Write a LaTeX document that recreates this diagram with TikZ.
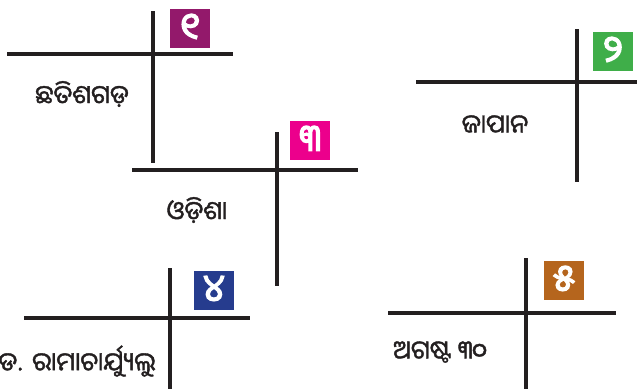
\documentclass[tikz,border=0pt]{standalone}
\usepackage{fontspec}
\newfontfamily\oriya[Script=Oriya,AutoFakeBold=1.6]{Noto Sans Oriya UI}
\newfontfamily\oriyabold[Script=Oriya,FakeBold=3.5]{Noto Sans Oriya UI}
\definecolor{cpurple}{HTML}{93196B}
\definecolor{cgreen}{HTML}{3FAE49}
\definecolor{cmagenta}{HTML}{EC008C}
\definecolor{cnavy}{HTML}{263C8E}
\definecolor{cbrown}{HTML}{B5651D}
\definecolor{cline}{HTML}{231F20}
\tikzset{
  rule/.style={draw=cline, line width=3.6pt},
  numbox/.style={minimum width=40pt, minimum height=39pt, inner sep=0pt, text=white, font=\oriyabold\fontsize{37}{37}\selectfont},
  lbl/.style={inner sep=0pt, text=cline, font=\oriya\bfseries\fontsize{25.5}{27}\selectfont}
}
\begin{document}
\begin{tikzpicture}[x=1pt,y=-1pt]
\useasboundingbox (0,0) rectangle (637,389);
% group 1
\coordinate (h1a) at (7,54); \coordinate (h1b) at (233,54);
\coordinate (v1a) at (153,11); \coordinate (v1b) at (153,163);
\draw[rule] (h1a) -- (h1b); \draw[rule] (v1a) -- (v1b);
\node[numbox, fill=cpurple] (n1) at (190,28) {୧};
\node[lbl] (t1) at (82,94) {ଛତିଶଗଡ଼};
% group 2
\coordinate (h2a) at (416,82); \coordinate (h2b) at (637,82);
\coordinate (v2a) at (577,29); \coordinate (v2b) at (577,182);
\draw[rule] (h2a) -- (h2b); \draw[rule] (v2a) -- (v2b);
\node[numbox, fill=cgreen] (n2) at (613,51) {୨};
\node[lbl] (t2) at (495,125) {ଜାପାନ};
% group 3
\coordinate (h3a) at (132,170); \coordinate (h3b) at (358,170);
\coordinate (v3a) at (277,132); \coordinate (v3b) at (277,286);
\draw[rule] (h3a) -- (h3b); \draw[rule] (v3a) -- (v3b);
\node[numbox, fill=cmagenta] (n3) at (310,140) {୩};
\node[lbl] (t3) at (197,210) {ଓଡ଼ିଶା};
% group 4
\coordinate (h4a) at (24,318); \coordinate (h4b) at (250,318);
\coordinate (v4a) at (170,268); \coordinate (v4b) at (170,389);
\draw[rule] (h4a) -- (h4b); \draw[rule] (v4a) -- (v4b);
\node[numbox, fill=cnavy] (n4) at (214,290) {୪};
\node[lbl] (t4) at (77,361) {ଡ. ରାମାଚାର୍ଯ୍ୟୁଲୁ};
% group 5
\coordinate (h5a) at (388,313); \coordinate (h5b) at (616,313);
\coordinate (v5a) at (526,258); \coordinate (v5b) at (526,389);
\draw[rule] (h5a) -- (h5b); \draw[rule] (v5a) -- (v5b);
\node[numbox, fill=cbrown] (n5) at (564,280) {୫};
\node[lbl] (t5) at (440,352) {ଅଗଷ୍ଟ ୩୦};
\end{tikzpicture}
\end{document}
